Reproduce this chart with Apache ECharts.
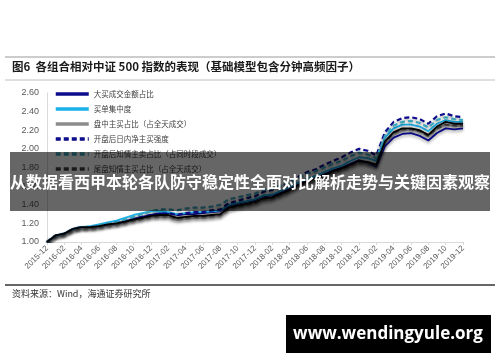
<!DOCTYPE html>
<html>
<head>
<meta charset="utf-8">
<script src="https://cdn.jsdelivr.net/npm/echarts@6/dist/echarts.min.js"></script>
<style>
html,body{margin:0;padding:0;background:#fff;}
#c{width:500px;height:362px;}
</style>
</head>
<body>
<div id="c"></div>
<script>
var months = ["2015-12","2016-01","2016-02","2016-03","2016-04","2016-05","2016-06","2016-07","2016-08","2016-09","2016-10","2016-11","2016-12",
"2017-01","2017-02","2017-03","2017-04","2017-05","2017-06","2017-07","2017-08","2017-09","2017-10","2017-11","2017-12",
"2018-01","2018-02","2018-03","2018-04","2018-05","2018-06","2018-07","2018-08","2018-09","2018-10","2018-11","2018-12",
"2019-01","2019-02","2019-03","2019-04","2019-05","2019-06","2019-07","2019-08","2019-09","2019-10","2019-11","2019-12"];

var yTicks = [1.0, 1.2, 1.4, 1.6, 1.8, 2.0, 2.2, 2.4, 2.6];

var seriesNames = ["大买成交金额占比","买单集中度","盘中主买占比（占全天成交）","开盘后日内净主买强度","开盘后知情主卖占比（占同时段成交）","尾盘知情主买占比（占全天成交）"];

var bigBuyShare = [1.00,1.07,1.09,1.14,1.16,1.16,1.17,1.19,1.20,1.22,1.25,1.27,1.29,1.31,1.31,1.29,1.30,1.30,1.31,1.32,1.33,1.39,1.41,1.43,1.45,1.49,1.50,1.53,1.57,1.62,1.66,1.69,1.73,1.77,1.80,1.84,1.88,1.85,1.81,2.03,2.12,2.16,2.17,2.14,2.09,2.17,2.22,2.21,2.22];
var buyConcentration = [1.00,1.07,1.09,1.14,1.16,1.17,1.19,1.21,1.23,1.26,1.29,1.31,1.33,1.33,1.32,1.30,1.31,1.32,1.32,1.33,1.34,1.40,1.42,1.44,1.46,1.50,1.51,1.55,1.59,1.64,1.68,1.71,1.75,1.79,1.82,1.87,1.91,1.90,1.87,2.12,2.22,2.26,2.26,2.24,2.19,2.27,2.31,2.29,2.29];
var intradayBuyShare = [1.00,1.06,1.08,1.13,1.15,1.15,1.16,1.18,1.19,1.21,1.23,1.25,1.27,1.27,1.27,1.24,1.25,1.26,1.26,1.27,1.28,1.35,1.37,1.39,1.41,1.45,1.46,1.50,1.54,1.59,1.63,1.66,1.70,1.74,1.77,1.81,1.85,1.84,1.81,2.06,2.16,2.20,2.21,2.19,2.14,2.22,2.26,2.25,2.25];
var openNetBuy = [1.00,1.07,1.09,1.14,1.16,1.16,1.17,1.19,1.21,1.23,1.25,1.27,1.29,1.30,1.31,1.29,1.31,1.32,1.32,1.34,1.35,1.42,1.44,1.47,1.49,1.54,1.56,1.60,1.64,1.70,1.75,1.78,1.83,1.87,1.91,1.96,2.00,1.98,1.93,2.18,2.29,2.33,2.34,2.32,2.27,2.35,2.38,2.35,2.34];
var openInformedSell = [1.00,1.07,1.09,1.14,1.16,1.16,1.18,1.20,1.21,1.24,1.27,1.30,1.33,1.35,1.35,1.34,1.36,1.37,1.37,1.38,1.40,1.46,1.48,1.50,1.52,1.56,1.57,1.61,1.64,1.69,1.73,1.76,1.80,1.84,1.87,1.92,1.96,1.94,1.90,2.14,2.25,2.29,2.30,2.28,2.23,2.31,2.34,2.32,2.31];
var closeInformedBuy = [1.00,1.07,1.09,1.14,1.15,1.15,1.16,1.18,1.19,1.21,1.23,1.25,1.27,1.28,1.28,1.25,1.26,1.27,1.27,1.28,1.29,1.36,1.38,1.40,1.42,1.46,1.47,1.51,1.55,1.60,1.64,1.67,1.71,1.75,1.78,1.82,1.86,1.85,1.82,2.07,2.17,2.21,2.21,2.19,2.14,2.22,2.26,2.25,2.25];
var baseCombo = [1.00,1.07,1.09,1.14,1.16,1.16,1.17,1.19,1.20,1.22,1.24,1.26,1.28,1.29,1.29,1.26,1.27,1.28,1.28,1.29,1.30,1.37,1.39,1.41,1.43,1.47,1.48,1.52,1.56,1.61,1.65,1.68,1.72,1.76,1.79,1.83,1.87,1.86,1.83,2.08,2.18,2.22,2.22,2.20,2.15,2.24,2.29,2.27,2.27];

var titleText = "图6  各组合相对中证 500 指数的表现（基础模型包含分钟高频因子）";
var sourceText = "资料来源：Wind，海通证券研究所";
var bannerText = "从数据看西甲本轮各队防守稳定性全面对比解析走势与关键因素观察";
var watermarkText = "www.wendingyule.org";

var shadow = {shadowColor:'rgba(0,0,0,0.35)', shadowBlur:3, shadowOffsetY:2};
function mk(name, data, color, width, type, z) {
  return {
    name: name, type: 'line', data: data, symbol: 'none', showSymbol: false, z: z || 2,
    lineStyle: Object.assign({color: color, width: width, type: type}, shadow),
    itemStyle: {color: color}
  };
}

var chart = echarts.init(document.getElementById('c'), null, {renderer: 'canvas'});
var cjk = '"Noto Sans CJK SC", sans-serif';
chart.setOption({
  backgroundColor: '#fff',
  animation: false,
  textStyle: {fontFamily: cjk},
  grid: {left: 47, right: 37, top: 93, bottom: 120},
  legend: {
    data: seriesNames,
    orient: 'vertical', left: 49, top: 85,
    itemWidth: 33, itemHeight: 10, itemGap: 7,
    lineStyle: {width: 3.5},
    itemStyle: {opacity: 0},
    textStyle: {fontSize: 7.5, color: '#404040', fontFamily: cjk},
    selectedMode: false
  },
  xAxis: {
    type: 'category', data: months, boundaryGap: false,
    axisLine: {lineStyle: {color: '#d9d9d9'}},
    axisTick: {interval: 1, length: 3, lineStyle: {color: '#d9d9d9'}},
    axisLabel: {interval: 1, rotate: 45, fontSize: 8, color: '#595959', margin: 5, fontFamily: 'Liberation Sans, Arial, sans-serif'},
    splitLine: {show: false}
  },
  yAxis: {
    type: 'value', min: yTicks[0], max: yTicks[yTicks.length - 1], interval: 0.2,
    axisLine: {show: true, lineStyle: {color: '#d9d9d9'}},
    axisTick: {show: false},
    splitLine: {show: false},
    axisLabel: {formatter: function (v) { return v.toFixed(2); }, fontSize: 9, color: '#595959', margin: 8, fontFamily: 'Liberation Sans, Arial, sans-serif'}
  },
  series: [
    mk(seriesNames[0], bigBuyShare, '#0b0b8c', 1.8, 'solid', 3),
    mk(seriesNames[1], buyConcentration, '#19b1e8', 1.8, 'solid', 3),
    mk(seriesNames[2], intradayBuyShare, '#8c8c8c', 2.6, 'solid', 2),
    mk(seriesNames[3], openNetBuy, '#0b0b8c', 2.2, [5, 3], 4),
    mk(seriesNames[4], openInformedSell, '#3aa4b8', 2.2, [5, 3], 4),
    mk(seriesNames[5], closeInformedBuy, '#404040', 1.8, [5, 3], 4),
    mk('基础组合', baseCombo, '#000000', 1.8, 'solid', 5)
  ],
  graphic: [
    {type: 'line', shape: {x1: 5, y1: 57, x2: 495, y2: 57}, style: {stroke: '#9a9a9a', lineWidth: 1}},
    {type: 'text', x: 12, y: 67, style: {text: titleText, fill: '#1a1a1a', font: 'bold 11.5px "Noto Sans CJK SC", sans-serif', verticalAlign: 'middle'}},
    {type: 'line', shape: {x1: 5, y1: 80, x2: 495, y2: 80}, style: {stroke: '#c0c0c0', lineWidth: 1}},
    {type: 'line', shape: {x1: 5, y1: 285, x2: 495, y2: 285}, style: {stroke: '#333', lineWidth: 1.5}},
    {type: 'text', x: 12, y: 294, style: {text: sourceText, fill: '#333', font: '9px "Noto Sans CJK SC", sans-serif', verticalAlign: 'middle'}},
    {type: 'rect', z: 100, shape: {x: 10, y: 152, width: 480, height: 59}, style: {fill: 'rgba(0,0,0,0.6)'}},
    {type: 'text', z: 101, x: 250, y: 182, style: {text: bannerText, fill: '#fff', font: 'bold 16px "Noto Sans CJK SC", sans-serif', align: 'center', verticalAlign: 'middle'}},
    {type: 'rect', z: 100, shape: {x: 286, y: 315, width: 205, height: 38}, style: {fill: '#000'}},
    {type: 'text', z: 101, x: 388, y: 334, style: {text: watermarkText, fill: '#fff', font: 'bold 17px "Open Sans", "Noto Sans", sans-serif', align: 'center', verticalAlign: 'middle'}}
  ]
});
</script>
</body>
</html>
